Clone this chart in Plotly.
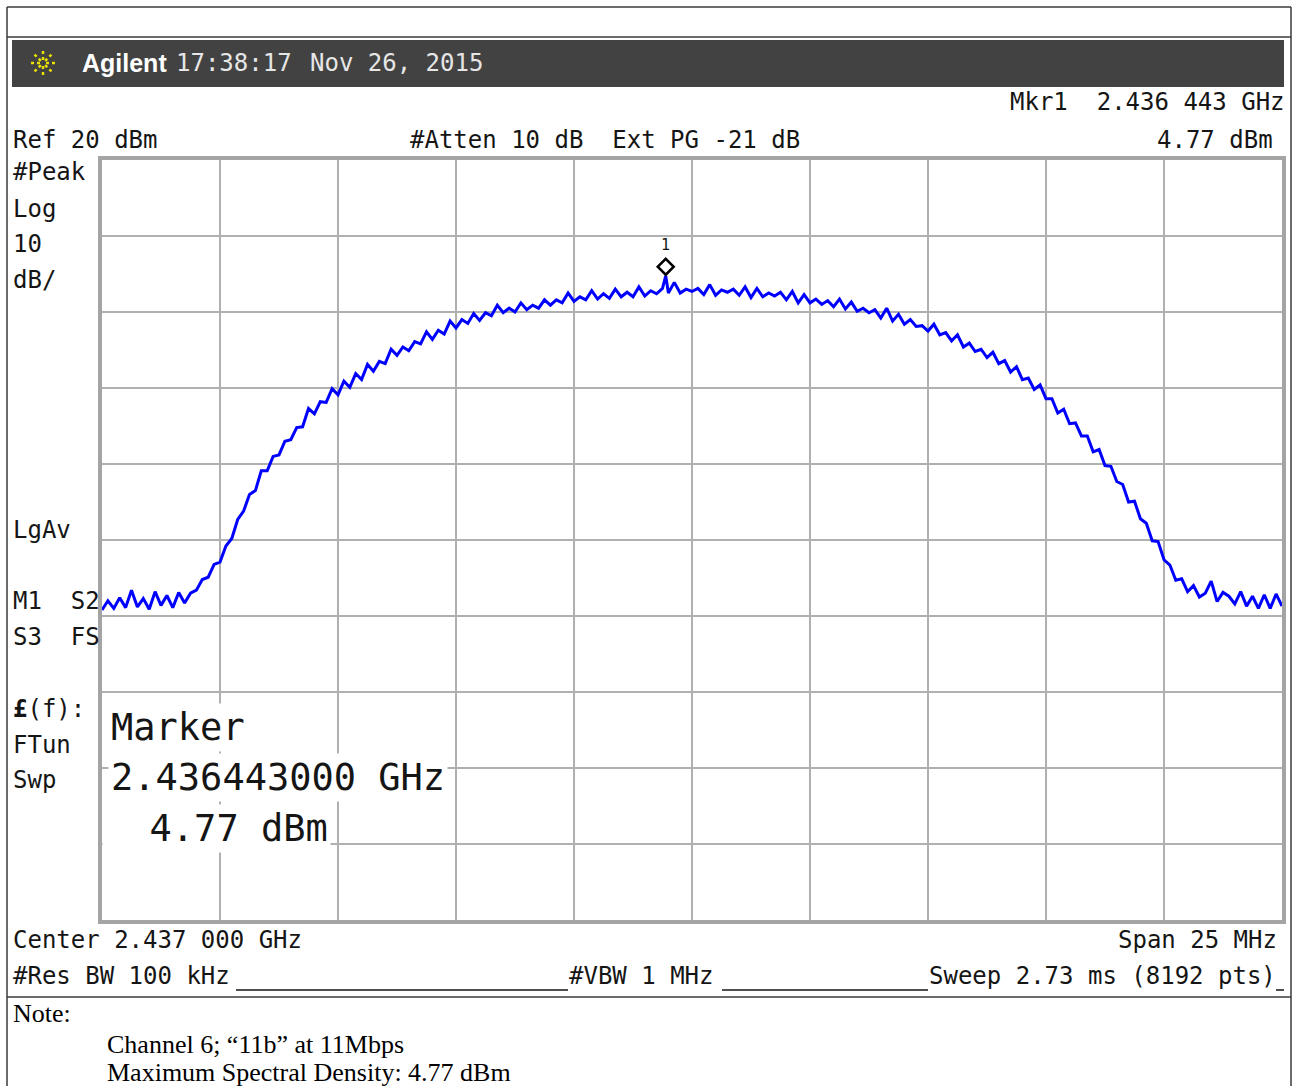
import math
import plotly.graph_objects as go

W, H = 1294, 1086

# ---- instrument settings / readings ----
CENTER_GHZ = 2.437
SPAN_MHZ = 25
REF_DBM = 20
DB_PER_DIV = 10
N_DIV = 10
STEP_MHZ = 0.125          # spacing of the values read below
MKR_GHZ = 2.436443
MKR_DBM = 4.77

# ---- trace levels (dBm), every 0.125 MHz from the left edge ----
noise_left = [-39.2, -38.0, -39.0, -37.6, -38.9, -36.6, -38.8, -37.7,
              -39.1, -36.8, -38.6, -37.3, -38.9, -36.9, -38.3, -37.0]
rising = [-36.6, -35.2, -34.9, -33.2, -32.9, -30.8, -29.8, -27.3,
          -26.2, -24.0, -23.5, -20.9, -20.9, -19.0, -18.8, -17.0,
          -16.8, -15.2, -15.1, -12.7, -13.4, -11.8, -11.9, -10.1,
          -10.9, -9.1, -9.9, -8.1, -8.9, -6.9, -7.8, -6.5,
          -6.8, -4.9, -5.7, -4.6, -5.1, -3.9, -4.2, -2.6,
          -3.6, -2.4, -2.9, -1.2, -2.1, -1.0, -1.5, -0.2]
top = [-1.1, -0.1, -0.5, 0.9, -0.1, 0.5, 0.0, 1.2,
       0.3, 0.9, 0.5, 1.6, 0.9, 1.6, 1.2, 2.5,
       1.4, 2.0, 1.6, 2.8, 1.7, 2.4, 1.8, 3.0,
       2.0, 2.6, 2.0, 3.3, 2.1, 2.8, 2.4, 3.1,
       2.5, 3.9, 2.5, 3.0, 2.7, 3.1, 2.3, 3.6,
       2.2, 2.9, 2.6, 3.0, 2.2, 3.3, 1.9, 3.1,
       2.0, 2.5, 2.1, 2.6, 1.6, 2.7, 1.2, 2.3,
       1.2, 1.7, 1.0, 1.5, 0.7, 1.7, 0.4, 1.3]
falling = [0.1, 0.5, -0.1, 0.3, -0.8, 0.5, -1.2, -0.3,
           -1.6, -1.0, -1.9, -1.8, -2.5, -1.6, -3.0, -2.7,
           -3.8, -3.0, -4.6, -4.1, -5.2, -4.9, -6.0, -5.3,
           -6.8, -6.4, -7.9, -7.2, -8.9, -8.7, -10.2, -9.6,
           -11.4, -11.4, -13.3, -12.8, -14.7, -14.6, -16.3, -16.3,
           -18.4, -18.1, -20.2, -20.3, -22.3, -22.7, -25.0, -24.9,
           -27.2, -27.8, -30.1, -30.2, -32.6, -33.3, -35.3, -35.1]
noise_right = [-36.8, -36.0, -37.5, -37.0, -35.4, -38.1, -36.9, -37.4,
               -38.4, -36.8, -38.7, -37.4, -39.0, -37.2, -39.0, -37.1,
               -38.7]

levels = noise_left + rising + top + falling + noise_right
f_start = CENTER_GHZ - SPAN_MHZ / 2 / 1000.0
f_stop = CENTER_GHZ + SPAN_MHZ / 2 / 1000.0
freqs = [f_start + i * STEP_MHZ / 1000.0 for i in range(len(levels))]
pts = sorted(zip(freqs + [MKR_GHZ], levels + [MKR_DBM]))
xs = [p[0] for p in pts]
ys = [p[1] for p in pts]

MONO = "DejaVu Sans Mono"
INK = "#151515"


def px(x):
    return x / W


def py(y):
    return 1 - y / H


def nb(s):
    return s.replace(" ", "\u00a0")


def txt(x, y, s, size=24, anchor="left", family=MONO, color=INK, bg=None, pad=0):
    d = dict(x=px(x), y=py(y), xref="paper", yref="paper", text=s, showarrow=False,
             xanchor=anchor, yanchor="middle", align="left",
             font=dict(family=family, size=size, color=color), borderpad=pad)
    if bg:
        d["bgcolor"] = bg
    return d


fig = go.Figure()
fig.add_trace(go.Scatter(x=xs, y=ys, mode="lines",
                         line=dict(color="#0000ff", width=3),
                         hoverinfo="skip", showlegend=False))

GRID = "#b0b0b0"
fig.update_layout(
    width=W, height=H, margin=dict(l=0, r=0, t=0, b=0),
    paper_bgcolor="white", plot_bgcolor="white", showlegend=False,
    xaxis=dict(domain=[px(102), px(1282)], range=[f_start, f_stop],
               tick0=f_start, dtick=SPAN_MHZ / N_DIV / 1000.0,
               showgrid=True, gridcolor=GRID, gridwidth=2,
               showticklabels=False, ticks="", zeroline=False,
               showline=True, linecolor="#a4a4a4", linewidth=4, mirror=True,
               fixedrange=True),
    yaxis=dict(domain=[py(920), py(160)],
               range=[REF_DBM - DB_PER_DIV * N_DIV, REF_DBM],
               tick0=REF_DBM, dtick=DB_PER_DIV,
               showgrid=True, gridcolor=GRID, gridwidth=2,
               showticklabels=False, ticks="", zeroline=False,
               showline=True, linecolor="#a4a4a4", linewidth=4, mirror=True,
               fixedrange=True),
)

shapes = []
FR = "#3a3a3a"
# outer table frame
for (x0, y0, x1, y1) in [(7, 7, 1291, 7), (7, 37, 1291, 37), (7, 997, 1291, 997),
                         (7, 7, 7, 1090), (1291, 7, 1291, 1090)]:
    shapes.append(dict(type="line", xref="paper", yref="paper",
                       x0=px(x0), y0=py(y0), x1=px(x1), y1=py(y1),
                       line=dict(color=FR, width=1.5)))
# header bar
shapes.append(dict(type="rect", xref="paper", yref="paper",
                   x0=px(12), x1=px(1284), y0=py(87), y1=py(40),
                   fillcolor="#424242", line=dict(width=0), layer="below"))
# logo: dotted yellow sunburst
LX, LY = 43, 63
for k in range(8):
    a = k * math.pi / 4
    shapes.append(dict(type="line", xref="paper", yref="paper",
                       x0=px(LX + 3 * math.cos(a)), y0=py(LY + 3 * math.sin(a)),
                       x1=px(LX + 13 * math.cos(a)), y1=py(LY + 13 * math.sin(a)),
                       line=dict(color="#e8e000", width=2.5, dash="dot")))
# underline fills of the bottom status row
for (x0, x1) in [(236, 568), (722, 928), (1276, 1284)]:
    shapes.append(dict(type="line", xref="paper", yref="paper",
                       x0=px(x0), x1=px(x1), y0=py(990), y1=py(990),
                       line=dict(color=INK, width=1.5)))
# marker diamond anchored at the marker reading
shapes.append(dict(type="path", xref="x", yref="y", xsizemode="pixel", ysizemode="pixel",
                   xanchor=MKR_GHZ, yanchor=MKR_DBM,
                   path="M 0 1 L 8 9 L 0 17 L -8 9 Z",
                   line=dict(color="black", width=2.5), fillcolor="rgba(0,0,0,0)"))
fig.update_layout(shapes=shapes)

g = f"{MKR_GHZ:.6f}"
mkr_str = g[:5] + " " + g[5:]
c = f"{CENTER_GHZ:.6f}"
center_str = c[:5] + " " + c[5:]

ann = []
# header
ann.append(txt(81, 63, "<b>Agilent</b>", size=25, family="Liberation Sans", color="white"))
ann.append(txt(175, 63, "17:38:17", size=24, color="#e6e6e6"))
ann.append(txt(309, 63, nb("Nov 26, 2015"), size=24, color="#e6e6e6"))
# top status lines
ann.append(txt(1286, 102, nb(f"Mkr1  {mkr_str} GHz"), anchor="right"))
ann.append(txt(12, 140, nb(f"Ref {REF_DBM} dBm")))
ann.append(txt(409, 140, nb("#Atten 10 dB  Ext PG -21 dB")))
ann.append(txt(1274, 140, nb(f"{MKR_DBM:.2f} dBm"), anchor="right"))
# left column
for (yy, s) in [(172, "#Peak"), (209, "Log"), (244, f"{DB_PER_DIV}"), (280, "dB/"),
                (530, "LgAv"), (601, "M1  S2"), (637, "S3  FS"), (709, "<b>£</b>(f):"),
                (745, "FTun"), (780, "Swp")]:
    ann.append(txt(12, yy, nb(s)))
# marker readout block
ann.append(txt(108, 727, "Marker", size=37, bg="white", pad=2))
ann.append(txt(108, 777, nb(f"{MKR_GHZ:.9f} GHz"), size=37, bg="white", pad=2))
ann.append(txt(102, 828, nb(f"  {MKR_DBM:.2f} dBm"), size=37, bg="white", pad=2))
# marker number
ann.append(dict(x=MKR_GHZ, y=MKR_DBM, xref="x", yref="y", text="1", showarrow=False,
                xanchor="center", yanchor="middle", yshift=31,
                font=dict(family=MONO, size=15, color=INK)))
# bottom status lines
ann.append(txt(12, 940, nb(f"Center {center_str} GHz")))
ann.append(txt(1278, 940, nb(f"Span {SPAN_MHZ} MHz"), anchor="right"))
ann.append(txt(12, 976, nb("#Res BW 100 kHz")))
ann.append(txt(568, 976, nb("#VBW 1 MHz")))
ann.append(txt(928, 976, nb("Sweep 2.73 ms (8192 pts)")))
# note
SERIF = "Liberation Serif"
ann.append(txt(12, 1014, "Note:", size=26, family=SERIF, color="black"))
ann.append(txt(106, 1044, "Channel 6; \u201c11b\u201d at 11Mbps", size=26, family=SERIF, color="black"))
ann.append(txt(106, 1072, f"Maximum Spectral Density: {MKR_DBM:.2f} dBm", size=26, family=SERIF, color="black"))
fig.update_layout(annotations=ann)

fig.write_html("out.html", config={"displayModeBar": False},
               post_script="document.body.style.margin='0';document.body.style.overflow='hidden';")
